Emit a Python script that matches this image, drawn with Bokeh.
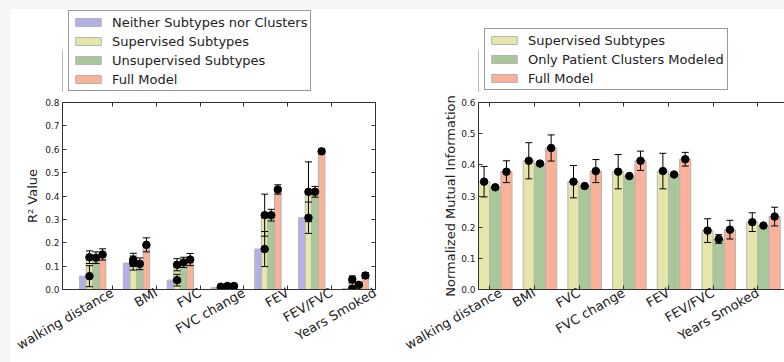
import math
from bokeh.plotting import figure
from bokeh.models import (FixedTicker, LinearAxis, Legend, LegendItem, Range1d,
                          PrintfTickFormatter)
from bokeh.layouts import row, column
from bokeh.embed import file_html
from bokeh.resources import INLINE

# ---------------- data ----------------
categories = ["walking distance", "BMI", "FVC", "FVC change", "FEV", "FEV/FVC", "Years Smoked"]

# left panel: R^2 values
r2_series = ["Neither Subtypes nor Clusters", "Supervised Subtypes",
             "Unsupervised Subtypes", "Full Model"]
r2_neither = [0.057, 0.113, 0.040, 0.008, 0.173, 0.307, 0.004]
r2_neither_err = [0.045, 0.030, 0.025, 0.004, 0.075, 0.067, 0.004]
r2_supervised = [0.138, 0.127, 0.106, 0.012, 0.318, 0.418, 0.043]
r2_supervised_err = [0.027, 0.028, 0.026, 0.004, 0.090, 0.128, 0.015]
r2_unsupervised = [0.136, 0.110, 0.116, 0.015, 0.318, 0.418, 0.020]
r2_unsupervised_err = [0.025, 0.025, 0.022, 0.004, 0.025, 0.023, 0.005]
r2_full = [0.150, 0.191, 0.128, 0.015, 0.428, 0.591, 0.060]
r2_full_err = [0.024, 0.030, 0.026, 0.004, 0.020, 0.010, 0.012]

# right panel: normalized mutual information
nmi_series = ["Supervised Subtypes", "Only Patient Clusters Modeled", "Full Model"]
nmi_supervised = [0.346, 0.413, 0.346, 0.378, 0.380, 0.189, 0.216]
nmi_supervised_err = [0.049, 0.058, 0.052, 0.055, 0.057, 0.038, 0.030]
nmi_clusters = [0.328, 0.404, 0.332, 0.364, 0.369, 0.162, 0.205]
nmi_clusters_err = [0.003, 0.003, 0.003, 0.003, 0.003, 0.014, 0.003]
nmi_full = [0.378, 0.454, 0.380, 0.413, 0.418, 0.192, 0.234]
nmi_full_err = [0.035, 0.042, 0.037, 0.031, 0.022, 0.030, 0.030]

# ---------------- style ----------------
FONT = "DejaVu Sans"
C_BLUE = "#b1b1e8"
C_YELLOW = "#e6e6aa"
C_GREEN = "#a9c899"
C_SALMON = "#f9b198"
EDGE = "#b4b4b4"
AX = "#333333"
TXT = "#222222"


def blank_axis(ticks):
    ax = LinearAxis(ticker=FixedTicker(ticks=ticks),
                    major_label_overrides={t: "" for t in ticks})
    ax.major_label_standoff = 0
    return ax


def style_axis(ax):
    ax.major_tick_in = 4
    ax.major_tick_out = 0
    ax.minor_tick_line_color = None
    ax.axis_line_color = AX
    ax.major_tick_line_color = AX
    ax.major_label_text_font = FONT
    ax.major_label_text_color = TXT


def build_axes(p, ticks_x, ticks_y, labels_x, ylabel, label_standoff, right_axis):
    yl = LinearAxis(ticker=FixedTicker(ticks=ticks_y),
                    formatter=PrintfTickFormatter(format="%.1f"), axis_label=ylabel)
    xb = LinearAxis(ticker=FixedTicker(ticks=ticks_x), major_label_overrides=labels_x)
    xa = blank_axis(ticks_x)
    for ax in (yl, xb, xa):
        style_axis(ax)
    yl.major_label_text_font_size = "9px"
    yl.major_label_standoff = 3
    yl.axis_label_text_font = FONT
    yl.axis_label_text_font_size = "13px"
    yl.axis_label_text_font_style = "normal"
    yl.axis_label_text_color = TXT
    yl.axis_label_standoff = label_standoff
    xb.major_label_text_font_size = "13px"
    xb.major_label_orientation = math.pi / 6
    xb.major_label_standoff = 2
    p.add_layout(yl, "left")
    p.add_layout(xb, "below")
    p.add_layout(xa, "above")
    if right_axis:
        yr = blank_axis(ticks_y)
        style_axis(yr)
        p.add_layout(yr, "right")


def legend_figure(width, names, colors, loc):
    # its frame is aligned with the chart frame below it by the column layout
    f = figure(width=width, height=83, x_range=Range1d(0, 1), y_range=Range1d(0, 1),
               output_backend="svg", toolbar_location=None,
               x_axis_location=None, y_axis_location=None,
               min_border_left=0, min_border_right=0, min_border_top=0, min_border_bottom=0)
    f.grid.visible = False
    f.outline_line_color = None
    f.border_fill_color = "white"
    items = []
    for name, col in zip(names, colors):
        # a single bar kept outside the visible range: only its legend swatch shows
        r = f.vbar(x=[-10], top=[0.5], width=0.1, fill_color=col, line_color=EDGE,
                   line_width=1)
        items.append(LegendItem(label=name, renderers=[r]))
    lg = Legend(items=items, location=loc)
    lg.margin = 0
    lg.label_text_font = FONT
    lg.label_text_font_size = "13px"
    lg.label_text_color = TXT
    lg.glyph_width = 32
    lg.glyph_height = 10
    lg.label_height = 16
    lg.spacing = 3
    lg.padding = 3
    lg.label_standoff = 8
    lg.border_line_color = AX
    lg.border_line_width = 1
    lg.background_fill_color = "white"
    lg.background_fill_alpha = 1.0
    f.add_layout(lg)
    return f


def errorbars(p, xs, ys, errs):
    lo = [y - e for y, e in zip(ys, errs)]
    hi = [y + e for y, e in zip(ys, errs)]
    p.segment(x0=xs, y0=lo, x1=xs, y1=hi, line_color="black", line_width=1)
    p.scatter(x=xs, y=hi, marker="dash", size=7, line_color="black", line_width=1)
    p.scatter(x=xs, y=lo, marker="dash", size=7, line_color="black", line_width=1)


idx = list(range(len(categories)))

# ---------------- left figure ----------------
left = figure(width=392, height=270, x_range=Range1d(-0.14, 7.005), y_range=Range1d(0, 0.8),
              output_backend="svg", toolbar_location=None,
              x_axis_location=None, y_axis_location=None,
              min_border_left=52, min_border_right=27, min_border_top=10, min_border_bottom=72)
left.grid.visible = False
left.outline_line_color = None
left.border_fill_color = "white"

bw = 0.15
r2_vals = [r2_neither, r2_supervised, r2_unsupervised, r2_full]
r2_errs = [r2_neither_err, r2_supervised_err, r2_unsupervised_err, r2_full_err]
r2_cols = [C_BLUE, C_YELLOW, C_GREEN, C_SALMON]
# bar slot where each series' error bar sits in the original figure
r2_err_slot = [1, 1, 2, 3]
for i, (vals, col) in enumerate(zip(r2_vals, r2_cols)):
    xs = [k + 0.25 + bw * i + bw / 2 for k in idx]
    left.vbar(x=xs, top=vals, bottom=0, width=bw, fill_color=col,
              line_color=EDGE, line_width=1)
for i, (vals, errs) in enumerate(zip(r2_vals, r2_errs)):
    xs = [k + 0.25 + bw * r2_err_slot[i] + bw / 2 for k in idx]
    errorbars(left, xs, vals, errs)
for i, vals in enumerate(r2_vals):
    xs = [k + 0.25 + bw * r2_err_slot[i] + bw / 2 for k in idx]
    left.scatter(x=xs, y=vals, size=7.5, fill_color="black", line_color="black")

build_axes(left, [k + 1 for k in idx], [i / 10 for i in range(9)],
           {k + 1: c for k, c in zip(idx, categories)}, "R² Value", 2, True)
left_leg = legend_figure(392, r2_series, r2_cols, (6, 1))

# ---------------- right figure ----------------
right = figure(width=382, height=270, x_range=Range1d(0, 6.846), y_range=Range1d(0, 0.6),
               output_backend="svg", toolbar_location=None,
               x_axis_location=None, y_axis_location=None,
               min_border_left=76, min_border_right=0, min_border_top=10, min_border_bottom=72)
right.grid.visible = False
right.outline_line_color = None
right.border_fill_color = "white"

bw2 = 0.25
nmi_vals = [nmi_supervised, nmi_clusters, nmi_full]
nmi_errs = [nmi_supervised_err, nmi_clusters_err, nmi_full_err]
nmi_cols = [C_YELLOW, C_GREEN, C_SALMON]
for i, (vals, col) in enumerate(zip(nmi_vals, nmi_cols)):
    xs = [k + bw2 * i + bw2 / 2 for k in idx]
    right.vbar(x=xs, top=vals, bottom=0, width=bw2, fill_color=col,
               line_color=EDGE, line_width=1)
for i, (vals, errs) in enumerate(zip(nmi_vals, nmi_errs)):
    xs = [k + bw2 * i + bw2 / 2 for k in idx]
    errorbars(right, xs, vals, errs)
    right.scatter(x=xs, y=vals, size=7.5, fill_color="black", line_color="black")

build_axes(right, [k + 0.25 for k in idx], [i / 10 for i in range(7)],
           {k + 0.25: c for k, c in zip(idx, categories)}, "Normalized Mutual Information",
           0, False)
right_leg = legend_figure(382, nmi_series, nmi_cols, (6, 2))

p = row(column(left_leg, left, styles={"background-color": "white"}),
        column(right_leg, right, styles={"background-color": "white"}),
        styles={"background-color": "white"})
html = file_html(p, INLINE)
html = html.replace("</head>",
                    "<style>html {background:#f5f6f6;} body {background:#f5f6f6; "
                    "padding:9px 0 0 10px !important;}</style></head>", 1)
open("out.html", "w").write(html)
